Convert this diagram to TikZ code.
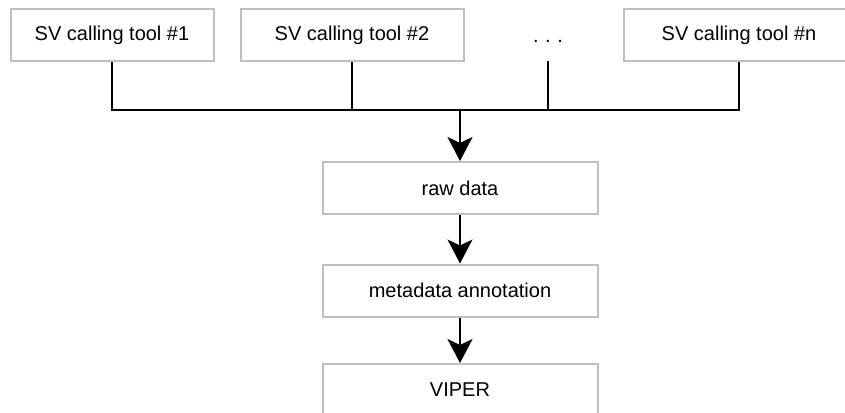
\documentclass[tikz,border=0pt]{standalone}
\usepackage{fontspec}
\setmainfont{Liberation Sans}
\usetikzlibrary{arrows.meta}
\begin{document}
\begin{tikzpicture}[x=1pt,y=-1pt,
  box/.style={draw=black!25,line width=2pt,fill=white,minimum height=52pt,inner sep=0pt,font=\fontsize{20}{24}\selectfont},
  wire/.style={line width=2pt,black},
  arr/.style={wire,-{Stealth[length=24pt,width=25pt,inset=6pt]}}]
\useasboundingbox (0,0) rectangle (845,412);
\clip (0,0) rectangle (845,412);
\fill[white] (0,0) rectangle (845,412);
\node[box,minimum width=203pt] (t1) at (112,35) {SV calling tool \#1};
\node[box,minimum width=223pt] (t2) at (352,35) {SV calling tool \#2};
\node[anchor=base,inner sep=0pt,font=\fontsize{20}{24}\selectfont] (dots) at (548,42) {.\,\,.\,\,.};
\node[box,minimum width=230pt] (tn) at (739,35) {SV calling tool \#n};
\coordinate (dtop) at (548,61);
\coordinate (bus) at (460,110);
\node[box,minimum width=275pt] (raw) at (460,188) {raw data};
\node[box,minimum width=275pt] (meta) at (460,290.5) {metadata annotation};
\node[box,minimum width=275pt] (viper) at (460,390) {VIPER};
\draw[wire] (t1.south) -- (t1.south |- bus) -- (tn.south |- bus) -- (tn.south);
\draw[wire] (t2.south) -- (t2.south |- bus);
\draw[wire] (dtop) -- (dtop |- bus);
\draw[arr] (bus) -- (raw.north);
\draw[arr] (raw.south) -- (meta.north);
\draw[arr] (meta.south) -- (viper.north);
\end{tikzpicture}
\end{document}
